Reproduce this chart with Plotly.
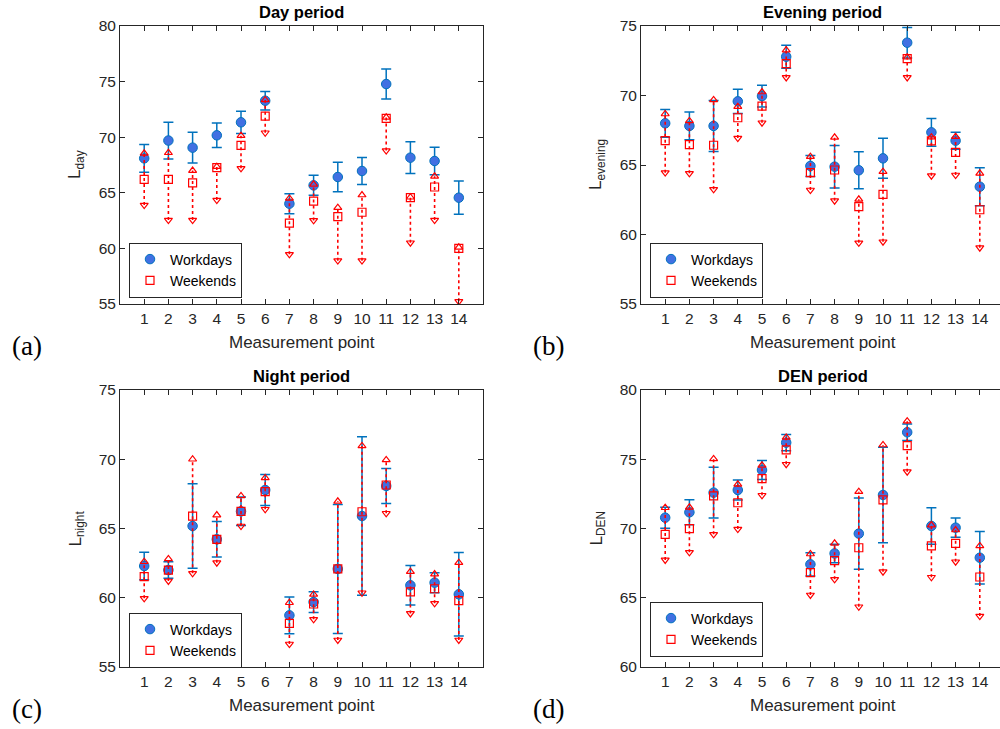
import plotly.graph_objects as go

points = list(range(1, 15))
tick_labels = [str(p) for p in points]

# ---- Day period ----
day_work_mean = [68.1, 69.7, 69.06, 70.17, 71.34, 73.28, 64.02, 65.67, 66.42, 66.96, 74.78, 68.16, 67.86, 64.56]
day_work_std = [1.25, 1.65, 1.38, 1.1, 1.0, 0.84, 0.9, 0.9, 1.33, 1.21, 1.35, 1.43, 1.23, 1.5]
day_wknd_mean = [66.2, 66.2, 65.9, 67.26, 69.27, 71.9, 62.28, 64.26, 62.85, 63.25, 71.7, 64.56, 65.52, 60.0]
day_wknd_max = [68.55, 68.6, 67.0, 67.35, 70.14, 73.35, 64.5, 65.76, 63.66, 64.8, 71.79, 64.6, 66.48, 60.1]
day_wknd_min = [63.9, 62.55, 62.55, 64.35, 67.2, 70.4, 59.47, 62.52, 58.9, 58.9, 68.8, 60.51, 62.55, 55.24]

# ---- Evening period ----
evening_work_mean = [68.0, 67.81, 67.81, 69.58, 69.96, 72.79, 64.93, 64.88, 64.62, 65.48, 73.8, 67.35, 66.75, 63.44]
evening_work_std = [1.0, 1.0, 1.83, 0.87, 0.78, 0.83, 0.76, 1.53, 1.33, 1.44, 1.1, 1.0, 0.61, 1.37]
evening_wknd_mean = [66.75, 66.46, 66.42, 68.4, 69.24, 72.3, 64.45, 64.64, 62.0, 62.89, 72.65, 66.73, 65.91, 61.78]
evening_wknd_max = [68.67, 68.17, 69.68, 69.2, 70.25, 73.27, 65.6, 66.99, 62.53, 64.52, 72.75, 67.0, 67.04, 64.4]
evening_wknd_min = [64.45, 64.4, 63.25, 66.94, 68.04, 71.3, 63.2, 62.43, 59.4, 59.48, 71.3, 64.23, 64.28, 59.05]

# ---- Night period ----
night_work_mean = [62.29, 62.0, 65.18, 64.22, 66.24, 67.78, 58.73, 59.69, 62.08, 65.9, 68.07, 60.9, 61.09, 60.25]
night_work_std = [0.99, 0.6, 3.05, 1.28, 1.03, 1.12, 1.33, 0.75, 4.66, 5.72, 1.26, 1.43, 0.72, 3.01]
night_wknd_mean = [61.52, 62.0, 65.9, 64.22, 66.24, 67.66, 58.15, 59.55, 62.08, 66.21, 68.14, 60.42, 60.65, 59.79]
night_wknd_max = [62.6, 62.8, 70.0, 65.97, 67.35, 68.65, 59.64, 60.24, 66.96, 70.96, 69.95, 61.88, 61.71, 62.53]
night_wknd_min = [59.96, 61.21, 61.76, 62.53, 65.18, 66.39, 56.66, 58.44, 56.95, 60.36, 66.1, 58.87, 59.6, 56.95]

# ---- DEN period ----
den_work_mean = [70.78, 71.17, 72.59, 72.78, 74.22, 76.2, 67.41, 68.2, 69.63, 72.42, 76.95, 70.18, 70.06, 67.89]
den_work_std = [0.76, 0.9, 1.83, 0.72, 0.69, 0.58, 0.84, 0.67, 2.57, 3.45, 0.6, 1.32, 0.7, 1.89]
den_wknd_mean = [69.58, 69.99, 72.35, 71.86, 73.6, 75.67, 66.81, 67.68, 68.61, 72.06, 75.98, 68.74, 68.93, 66.5]
den_wknd_max = [71.5, 71.53, 75.02, 73.19, 74.56, 76.58, 68.16, 68.93, 72.66, 76.03, 77.75, 70.25, 69.89, 68.74]
den_wknd_min = [67.73, 68.28, 69.58, 69.96, 72.4, 74.64, 65.2, 66.33, 64.35, 66.88, 74.1, 66.48, 67.6, 63.68]

titles = ["Day period", "Evening period", "Night period", "DEN period"]
ylabels = ["L<sub>day</sub>", "L<sub>evening</sub>", "L<sub>night</sub>", "L<sub>DEN</sub>"]
panel_letters = ["(a)", "(b)", "(c)", "(d)"]
yranges = [(55, 80), (55, 75), (55, 75), (60, 80)]

W, H = 1000, 729
FONT = "Liberation Sans, Arial, Helvetica, sans-serif"
AXC = "#262626"
BLUE_LINE = "#0072BD"
BLUE_FILL = "#4170E2"
RED = "#FF0000"

panels = [
    (day_work_mean, day_work_std, day_wknd_mean, day_wknd_max, day_wknd_min),
    (evening_work_mean, evening_work_std, evening_wknd_mean, evening_wknd_max, evening_wknd_min),
    (night_work_mean, night_work_std, night_wknd_mean, night_wknd_max, night_wknd_min),
    (den_work_mean, den_work_std, den_wknd_mean, den_wknd_max, den_wknd_min),
]

# pixel boxes (left, top, right, bottom)
boxes = [(120, 26, 483, 304), (641, 26, 1000, 304), (120, 390, 483, 667), (641, 390, 1000, 667)]
legend_centers = [268.5, 268.5, 638.5, 627.5]
LEGEND_H = 52
PX_PER_UNIT = 363 / 15.0

fig = go.Figure()
annotations = []
layout = dict(width=W, height=H, margin=dict(l=0, r=0, t=0, b=0, pad=0, autoexpand=False),
              plot_bgcolor="white", paper_bgcolor="white",
              font=dict(family=FONT, color=AXC))

for i, (wm, ws, em, emax, emin) in enumerate(panels):
    n = i + 1
    xa = "x" if n == 1 else f"x{n}"
    ya = "y" if n == 1 else f"y{n}"
    leg = "legend" if n == 1 else f"legend{n}"
    l, t, r, b = boxes[i]
    xmax = (r - l) / PX_PER_UNIT

    fig.add_trace(go.Scatter(
        x=points, y=wm, mode="markers", name="Workdays", xaxis=xa, yaxis=ya, legend=leg,
        marker=dict(symbol="circle", size=9.5, color=BLUE_FILL, line=dict(color=BLUE_LINE, width=1)),
        error_y=dict(type="data", array=ws, symmetric=True, color=BLUE_LINE, thickness=1.5, width=5),
    ))
    seg_x, seg_y = [], []
    for p, lo, hi in zip(points, emin, emax):
        seg_x += [p, p, None]
        seg_y += [lo, hi, None]
    fig.add_trace(go.Scatter(x=seg_x, y=seg_y, mode="lines", xaxis=xa, yaxis=ya, showlegend=False,
                             line=dict(color=RED, width=1.6, dash="dot"), hoverinfo="skip"))
    fig.add_trace(go.Scatter(x=points, y=emax, mode="markers", xaxis=xa, yaxis=ya, showlegend=False,
                             marker=dict(symbol="triangle-up-open", size=7, color=RED, line=dict(width=1.2))))
    fig.add_trace(go.Scatter(x=points, y=emin, mode="markers", xaxis=xa, yaxis=ya, showlegend=False,
                             marker=dict(symbol="triangle-down-open", size=7, color=RED, line=dict(width=1.2))))
    fig.add_trace(go.Scatter(x=points, y=em, mode="markers", name="Weekends", xaxis=xa, yaxis=ya, legend=leg,
                             marker=dict(symbol="square-open", size=8, color=RED, line=dict(width=1.2))))

    right_panel = (i % 2 == 1)
    xkey = "xaxis" if n == 1 else f"xaxis{n}"
    ykey = "yaxis" if n == 1 else f"yaxis{n}"
    layout[xkey] = dict(domain=[l / W, r / W], anchor=ya, range=[0, xmax], automargin=False,
                        tickmode="array", tickvals=points, ticktext=tick_labels,
                        ticks="inside", ticklen=5, tickcolor=AXC, tickwidth=1,
                        showline=True, linecolor=AXC, linewidth=1, mirror="ticks",
                        showgrid=False, zeroline=False,
                        tickfont=dict(family=FONT, size=15.5, color=AXC))
    y0, y1 = yranges[i]
    layout[ykey] = dict(domain=[1 - b / H, 1 - t / H], anchor=xa, range=[y0, y1], automargin=False,
                        dtick=5, tick0=0,
                        ticks="inside", ticklen=5, tickcolor=AXC, tickwidth=1,
                        showline=True, linecolor=AXC, linewidth=1,
                        mirror=(False if right_panel else "ticks"),
                        showgrid=False, zeroline=False,
                        tickfont=dict(family=FONT, size=15.5, color=AXC))

    cx = l + 363 / 2
    # title
    annotations.append(dict(text=f"<b>{titles[i]}</b>", x=cx / W, y=1 - (t - 14) / H,
                            xref="paper", yref="paper", showarrow=False,
                            xanchor="center", yanchor="middle",
                            font=dict(family=FONT, size=16.5, color="black")))
    # x label
    annotations.append(dict(text="Measurement point", x=cx / W, y=1 - (b + 38) / H,
                            xref="paper", yref="paper", showarrow=False,
                            xanchor="center", yanchor="middle",
                            font=dict(family=FONT, size=17, color=AXC)))
    # y label
    annotations.append(dict(text=ylabels[i], x=(l - 44) / W, y=1 - ((t + b) / 2) / H,
                            xref="paper", yref="paper", showarrow=False, textangle=-90,
                            xanchor="center", yanchor="middle",
                            font=dict(family=FONT, size=17, color=AXC)))
    # panel letter
    annotations.append(dict(text=panel_letters[i], x=(l - 110) / W, y=1 - (b + 42) / H,
                            xref="paper", yref="paper", showarrow=False,
                            xanchor="left", yanchor="middle",
                            font=dict(family="Liberation Serif, DejaVu Serif, serif", size=27, color="black")))
    # legend
    legend_top = legend_centers[i] - LEGEND_H / 2
    layout[leg] = dict(x=(l + 9) / W, y=1 - legend_top / H, xanchor="left", yanchor="top",
                       bgcolor="white", bordercolor=AXC, borderwidth=1,
                       font=dict(family=FONT, size=14, color="black"),
                       traceorder="normal", tracegroupgap=0, itemwidth=30)

layout["annotations"] = annotations
layout["showlegend"] = True
fig.update_layout(**layout)
fig.write_html("out.html")
